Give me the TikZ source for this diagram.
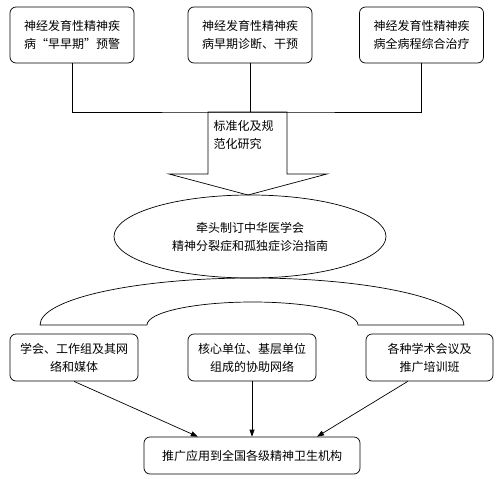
\documentclass[tikz,border=0pt]{standalone}
\usepackage{fontspec}
\setmainfont{Noto Sans CJK SC}
\usepackage{tikz}
\usetikzlibrary{arrows.meta, positioning, shapes.geometric, calc}

\begin{document}
\begin{tikzpicture}[x=1pt, y=-1pt,
    every node/.style={font=\fontsize{12}{18}\selectfont},
    topbox/.style={draw, rounded corners=6pt, align=center, inner sep=0pt,
                   minimum width=124pt, minimum height=56pt},
    subbox/.style={draw, rounded corners=6pt, align=center, inner sep=0pt,
                   minimum width=128pt, minimum height=47pt},
    guide/.style={draw, ellipse, align=center, inner sep=0pt,
                  minimum width=272pt, minimum height=83pt},
    link/.style={-{Triangle[length=7pt, width=5pt]}, line width=0.7pt},
    line width=0.7pt,
]
    \useasboundingbox (0,0) rectangle (498,479);

    % three research directions
    \node[topbox] (early) at (72,35) {神经发育性精神疾\\病“早早期”预警};
    \node[topbox] (diag) at (250,35) {神经发育性精神疾\\病早期诊断、干预};
    \node[topbox] (treat) at (421.5,35) {神经发育性精神疾\\病全病程综合治疗};

    \coordinate (join) at (250,112);
    \draw (early.south) |- (join) -| (treat.south);
    \draw (diag.south) -- (diag.south |- join);

    % block arrow
    \draw (208,112) -- (208,174) -- (169,174) -- (248,195) -- (327,174)
        -- (287,174) -- (287,112) -- cycle;
    \node[align=left, anchor=west] (std) at (210,135) {标准化及规\\范化研究};

    \node[guide] (guide) at (250,236.5) {牵头制订中华医学会\\精神分裂症和孤独症诊治指南};

    % arch
    \draw (40,325) arc[start angle=180, end angle=360, x radius=212, y radius=47]
        -- (358,325) arc[start angle=360, end angle=180, x radius=105.5, y radius=23]
        -- cycle;

    % dissemination channels
    \node[subbox] (soc) at (74,357.5) {学会、工作组及其网\\络和媒体};
    \node[subbox] (net) at (252,357.5) {核心单位、基层单位\\组成的协助网络};
    \node[subbox, minimum width=127pt] (conf) at (429.5,357.5) {各种学术会议及\\推广培训班};

    \node[draw, rounded corners=6pt, inner sep=0pt, minimum width=216pt,
          minimum height=37pt] (fin) at (252,455.5) {推广应用到全国各级精神卫生机构};

    \draw[link] (soc.south) -- ($(fin.north west)!0.25!(fin.north east)$);
    \draw[link] (net.south) -- (fin.north);
    \draw[link] ($(conf.south west)!0.33!(conf.south east)$) -- ($(fin.north west)!0.8!(fin.north east)$);
\end{tikzpicture}
\end{document}
